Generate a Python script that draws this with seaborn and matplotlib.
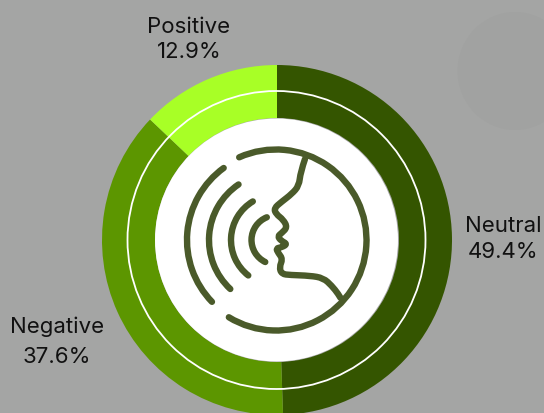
import numpy as np
import seaborn as sns
import matplotlib.pyplot as plt
from matplotlib.patches import Circle, Arc, Ellipse, PathPatch
from matplotlib.path import Path

# значения диаграммы
labels = ['Neutral', 'Negative', 'Positive']
shares = [49.4, 37.6, 12.9]
colors = ['#345500', '#5c9600', '#a8ff26']
label_texts = ['Neutral\n49.4%', 'Negative\n37.6%', 'Positive\n12.9%']

W, H = 544, 414
BG = '#a4a5a4'
ICON = '#4a5a2a'
CX, CY = 277, H - 241
FONT = ['Inter', 'DejaVu Sans']
ICON_LW = 4.6

# профиль лица на иконке (пиксели картинки)
face_x = [305, 300.5, 299, 291.7, 281.7, 274, 276, 283.3, 287.3, 281.7, 277.7, 281, 287.3, 281.7,
          276, 278.3, 282.7, 279.3, 281.7, 290, 310, 323.3, 331.7, 338.3, 342.7]
face_y = [160, 173.3, 186.7, 195, 202.7, 209.3, 215, 220.7, 228.3, 234, 237.3, 241.7, 245, 248.3,
          249.3, 254, 260, 268.3, 275, 276, 276.7, 279, 286.7, 295, 302.7]
# дуги звука: радиус, начало и конец (градусы)
sound_arcs = [(89, 126, 224), (67, 124, 227), (45, 121, 232), (24.5, 112, 244)]

sns.set_theme(style='white', rc={'font.size': 16})
plt.rcParams['font.family'] = FONT

fig = plt.figure(figsize=(W / 100, H / 100), dpi=100, facecolor=BG)
ax = fig.add_axes([0, 0, 1, 1])

ax.pie(shares, colors=colors, startangle=90, counterclock=False, radius=175,
       center=(CX, CY), wedgeprops={'width': 53, 'linewidth': 0})
ax.set_xlim(0, W)
ax.set_ylim(0, H)
ax.set_aspect('equal')
ax.set_facecolor(BG)

# слабая тень на фоне справа
ax.add_patch(Ellipse((515, H - 72), 115, 118, color='#a1a2a1', lw=0, zorder=0))

ax.add_patch(Circle((CX - 0.5, CY), 149, fill=False, ec='white', lw=1.3, zorder=3))
ax.add_patch(Circle((CX - 0.5, CY), 121.5, fc='white', ec='none', zorder=3))

# иконка
ix, iy = 276, H - 241
ax.add_patch(Arc((ix, iy), 181, 181, theta1=238.6, theta2=474, ec=ICON, lw=ICON_LW,
                 zorder=4, capstyle='round'))
for r, t1, t2 in sound_arcs:
    ax.add_patch(Arc((ix, iy), 2 * r, 2 * r, theta1=t1, theta2=t2, ec=ICON, lw=ICON_LW,
                     zorder=4, capstyle='round'))

pts = np.column_stack([face_x, H - np.array(face_y)])
verts = [pts[0]]
codes = [Path.MOVETO]
for i in range(1, len(pts) - 1):
    verts += [pts[i], (pts[i] + pts[i + 1]) / 2]
    codes += [Path.CURVE3, Path.CURVE3]
ax.add_patch(PathPatch(Path(verts, codes), fill=False, ec=ICON, lw=ICON_LW, zorder=4,
                       capstyle='round', joinstyle='round'))

ax.text(503, H - 239, label_texts[0], ha='center', va='center', color='#111111',
        fontsize=16, linespacing=1.35)
ax.text(57, H - 342, label_texts[1], ha='center', va='center', color='#111111',
        fontsize=16, linespacing=1.6)
ax.text(189, H - 39.5, label_texts[2], ha='center', va='center', color='#111111',
        fontsize=16, linespacing=1.32)

fig.savefig('out.png', dpi=100, facecolor=BG)
